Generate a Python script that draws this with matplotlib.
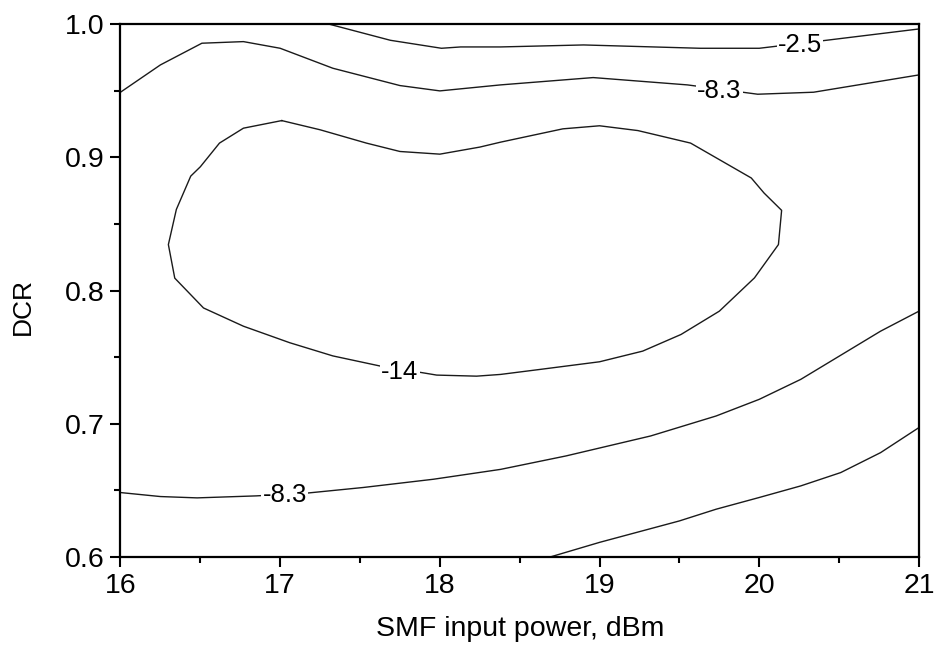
import matplotlib
matplotlib.use("Agg")
import matplotlib.pyplot as plt
from matplotlib.ticker import MultipleLocator

plt.rcParams["font.family"] = ["Liberation Sans", "DejaVu Sans"]

# Contour lines (x = SMF input power in dBm, y = DCR)
top_25_x = [17.31, 17.69, 18.01, 18.13, 18.38, 18.90, 19.63, 20.00, 20.42, 21.00]
top_25_y = [1.000, 0.988, 0.982, 0.983, 0.983, 0.9845, 0.982, 0.982, 0.988, 0.9965]

upper_83_x = [16.00, 16.25, 16.51, 16.77, 17.00, 17.33, 17.75, 18.00, 18.38,
              18.96, 19.55, 19.99, 20.34, 21.00]
upper_83_y = [0.949, 0.9695, 0.9858, 0.987, 0.982, 0.967, 0.954, 0.950, 0.9545,
              0.960, 0.9545, 0.9475, 0.949, 0.962]

loop_14_x = [17.01, 17.25, 17.54, 17.75, 18.00, 18.25, 18.38, 18.77, 19.00, 19.24,
             19.57, 19.95, 20.03, 20.14, 20.12, 19.97, 19.75, 19.51, 19.27, 19.00,
             18.63, 18.38, 18.23, 17.98, 17.89, 17.63, 17.33, 17.06, 16.77, 16.52,
             16.34, 16.30, 16.35, 16.44, 16.50, 16.62, 16.77, 17.01]
loop_14_y = [0.9277, 0.9208, 0.9108, 0.9045, 0.9025, 0.9078, 0.9115, 0.9215, 0.9238,
             0.9202, 0.9108, 0.8846, 0.8733, 0.8603, 0.8346, 0.8096, 0.7846, 0.7671,
             0.7546, 0.7466, 0.7409, 0.7371, 0.7358, 0.7366, 0.7384, 0.7433, 0.751,
             0.7609, 0.7733, 0.787, 0.8094, 0.8346, 0.861, 0.886, 0.893, 0.9108,
             0.922, 0.9277]

lower_83_x = [16.00, 16.25, 16.48, 16.85, 17.16, 17.52, 17.96, 18.38, 18.79, 19.32,
              19.73, 20.00, 20.26, 20.76, 21.00]
lower_83_y = [0.6484, 0.6454, 0.6444, 0.6459, 0.6479, 0.6522, 0.6584, 0.6658, 0.6759,
              0.6909, 0.7059, 0.7184, 0.7334, 0.7696, 0.7846]

bottom_25_x = [18.69, 19.00, 19.50, 19.73, 20.00, 20.26, 20.51, 20.76, 21.00]
bottom_25_y = [0.600, 0.611, 0.6271, 0.6359, 0.6447, 0.6534, 0.6634, 0.6784, 0.6972]

# inline contour labels: (text, x, y)
labels = [("-2.5", 20.255, 0.9845), ("-8.3", 19.751, 0.9496),
          ("-14", 17.75, 0.739), ("-8.3", 17.028, 0.6464)]

fig = plt.figure(figsize=(9.36, 6.55), dpi=100)
ax = fig.add_axes([0.1287, 0.1496, 0.9818 - 0.1287, 0.9629 - 0.1496])

for xs, ys in [(top_25_x, top_25_y), (upper_83_x, upper_83_y), (loop_14_x, loop_14_y),
               (lower_83_x, lower_83_y), (bottom_25_x, bottom_25_y)]:
    ax.plot(xs, ys, color="#1a1a1a", lw=1.0, solid_joinstyle="round")

for txt, x, y in labels:
    ax.text(x, y, txt, fontsize=18.5, ha="center", va="center", zorder=5,
            bbox=dict(facecolor="white", edgecolor="none", pad=0.8))

ax.set_xlim(16, 21)
ax.set_ylim(0.6, 1.0)
ax.xaxis.set_major_locator(MultipleLocator(1))
ax.xaxis.set_minor_locator(MultipleLocator(0.5))
ax.yaxis.set_major_locator(MultipleLocator(0.1))
ax.yaxis.set_minor_locator(MultipleLocator(0.05))
ax.yaxis.set_major_formatter(plt.FormatStrFormatter("%.1f"))

for s in ax.spines.values():
    s.set_linewidth(1.6)
ax.tick_params(which="both", direction="out", width=1.5, top=False, right=False,
               labelsize=20.5, colors="black")
ax.tick_params(which="major", length=7.5, pad=4)
ax.tick_params(which="minor", length=4)

ax.set_xlabel("SMF input power, dBm", fontsize=20.5, labelpad=12)
ax.set_ylabel("DCR", fontsize=19)
ax.yaxis.set_label_coords(-0.107, 0.47)

fig.savefig("out.png", dpi=100)
